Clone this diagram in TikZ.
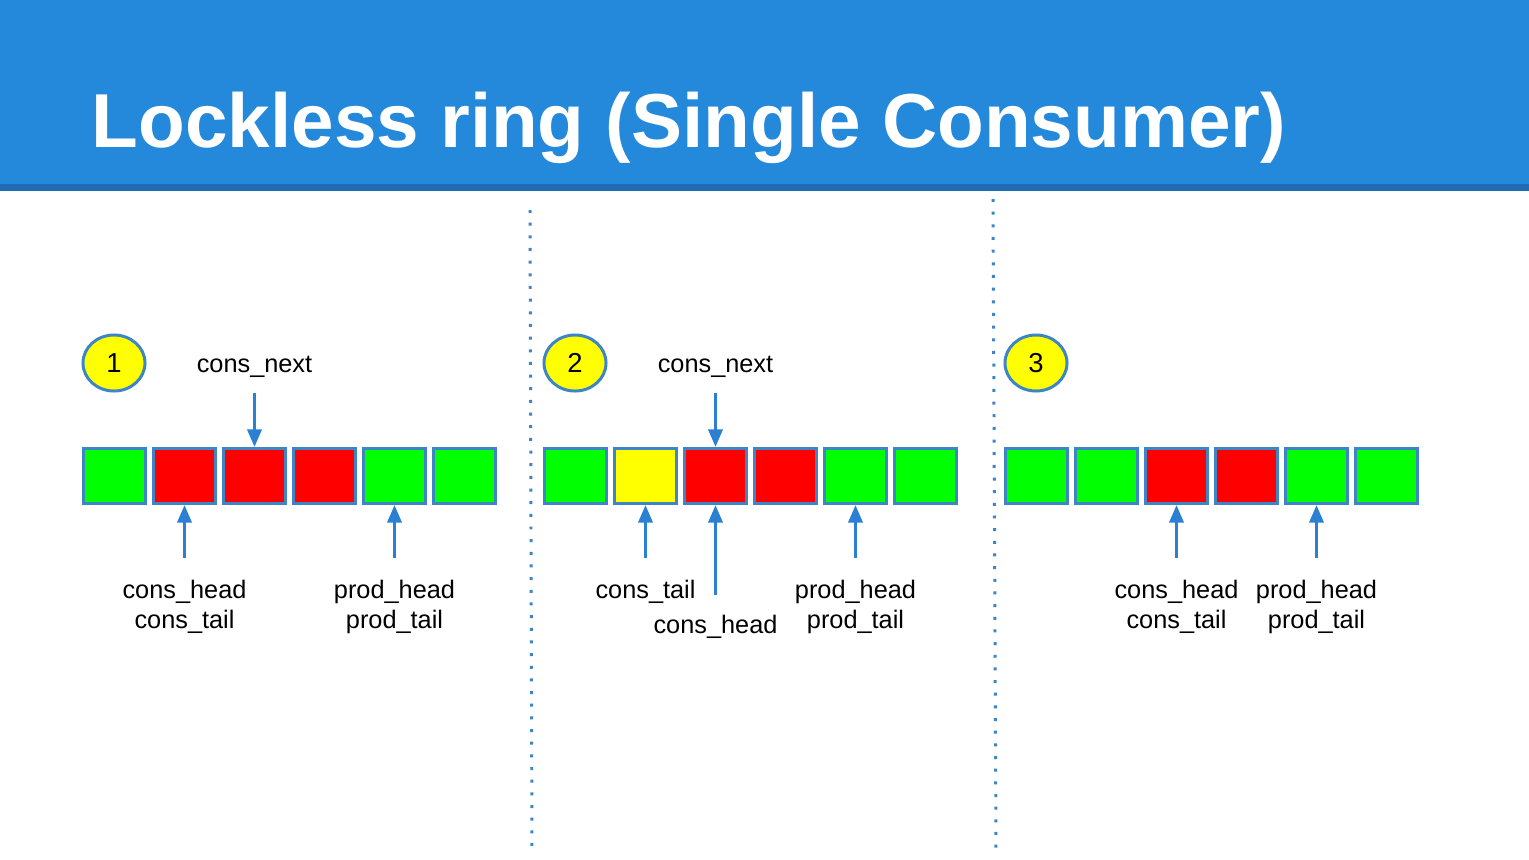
\documentclass[tikz,border=0pt]{standalone}
\usepackage{fontspec}
\setmainfont{Liberation Sans}
\usetikzlibrary{shapes.geometric,arrows.meta}
\definecolor{slideblue}{HTML}{2488DB}
\definecolor{slidedark}{HTML}{1F6CB3}
\definecolor{edgeblue}{HTML}{3D85C6}
\definecolor{ptrblue}{HTML}{2B80D4}
\definecolor{slotgreen}{HTML}{00FF00}
\definecolor{slotred}{HTML}{FF0000}
\definecolor{slotyellow}{HTML}{FFFF00}

\begin{document}
\begin{tikzpicture}[x=0.01cm,y=-0.01cm,
  slot/.style={rectangle, draw=edgeblue, line width=0.85pt, fill=#1, minimum width=0.62cm, minimum height=0.55cm, inner sep=0pt},
  badge/.style={ellipse, draw=edgeblue, line width=0.85pt, fill=slotyellow, minimum width=0.62cm, minimum height=0.56cm, inner sep=0pt, font=\fontsize{7.8}{9}\selectfont},
  lbl/.style={anchor=base, align=center, inner sep=0pt, font=\fontsize{7.2}{8.5}\selectfont},
  ptr/.style={-{Triangle[width=4pt,length=5pt]}, draw=ptrblue, line width=0.95pt},
  sep/.style={draw=edgeblue, line width=0.85pt, dash pattern=on 0.85pt off 2.75pt}]
\useasboundingbox (0,0) rectangle (1529,860);
\fill[white] (0,0) rectangle (1529,860);

% title bar
\fill[slideblue] (0,0) rectangle (1529,184);
\fill[slidedark] (0,184) rectangle (1529,191);
\node[anchor=base west, inner sep=0pt, text=white, font=\fontsize{21.75}{26}\selectfont\bfseries] at (91,147)(title) {Lockless ring (Single Consumer)};

% separators
\draw[sep] (530,210) -- (532,850);
\draw[sep] (993,199) -- (996,850);

% step 1
\node[badge] at (114,363)(b1) {1};
\node[slot=slotgreen] at (114.5,476)(a1) {};
\node[slot=slotred] at (184.5,476)(a2) {};
\node[slot=slotred] at (254.5,476)(a3) {};
\node[slot=slotred] at (324.5,476)(a4) {};
\node[slot=slotgreen] at (394.5,476)(a5) {};
\node[slot=slotgreen] at (464.5,476)(a6) {};
\node[lbl] at (254.5,372)(next1) {cons\_next};
\node[lbl] at (184.5,628)(cons1) {cons\_head\\cons\_tail};
\node[lbl] at (394.5,628)(prod1) {prod\_head\\prod\_tail};
\coordinate (pn1) at (254.5,393);
\coordinate (pc1) at (184.5,558);
\coordinate (pp1) at (394.5,558);
\draw[ptr] (pn1) -- (a3.north);
\draw[ptr] (pc1) -- (a2.south);
\draw[ptr] (pp1) -- (a5.south);

% step 2
\node[badge] at (575,363)(b2) {2};
\node[slot=slotgreen] at (575.5,476)(m1) {};
\node[slot=slotyellow] at (645.5,476)(m2) {};
\node[slot=slotred] at (715.5,476)(m3) {};
\node[slot=slotred] at (785.5,476)(m4) {};
\node[slot=slotgreen] at (855.5,476)(m5) {};
\node[slot=slotgreen] at (925.5,476)(m6) {};
\node[lbl] at (715.5,372)(next2) {cons\_next};
\node[lbl] at (645.5,598)(tail2) {cons\_tail};
\node[lbl] at (715.5,633)(head2) {cons\_head};
\node[lbl] at (855.5,628)(prod2) {prod\_head\\prod\_tail};
\coordinate (pn2) at (715.5,393);
\coordinate (pt2) at (645.5,558);
\coordinate (ph2) at (715.5,595);
\coordinate (pp2) at (855.5,558);
\draw[ptr] (pn2) -- (m3.north);
\draw[ptr] (pt2) -- (m2.south);
\draw[ptr] (ph2) -- (m3.south);
\draw[ptr] (pp2) -- (m5.south);

% step 3
\node[badge] at (1036,363)(b3) {3};
\node[slot=slotgreen] at (1036.5,476)(z1) {};
\node[slot=slotgreen] at (1106.5,476)(z2) {};
\node[slot=slotred] at (1176.5,476)(z3) {};
\node[slot=slotred] at (1246.5,476)(z4) {};
\node[slot=slotgreen] at (1316.5,476)(z5) {};
\node[slot=slotgreen] at (1386.5,476)(z6) {};
\node[lbl] at (1176.5,628)(cons3) {cons\_head\\cons\_tail};
\node[lbl] at (1316.5,628)(prod3) {prod\_head\\prod\_tail};
\coordinate (pc3) at (1176.5,558);
\coordinate (pp3) at (1316.5,558);
\draw[ptr] (pc3) -- (z3.south);
\draw[ptr] (pp3) -- (z5.south);

\end{tikzpicture}
\end{document}
